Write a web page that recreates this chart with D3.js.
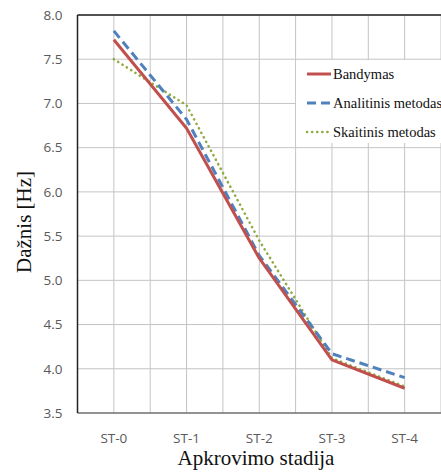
<!DOCTYPE html>
<html>
<head>
<meta charset="utf-8">
<script src="https://cdn.jsdelivr.net/npm/d3@7"></script>
</head>
<body style="margin:0">
<svg id="chart" width="441" height="474"></svg>
<script>
// chart data
var stages = ["ST-0", "ST-1", "ST-2", "ST-3", "ST-4"];
var bandymas = [7.72, 6.72, 5.25, 4.10, 3.78];
var analitinis = [7.82, 6.82, 5.28, 4.17, 3.90];
var skaitinis = [7.50, 6.98, 5.45, 4.12, 3.80];
var yTicks = [3.5, 4.0, 4.5, 5.0, 5.5, 6.0, 6.5, 7.0, 7.5, 8.0];
var seriesNames = ["Bandymas", "Analitinis metodas", "Skaitinis metodas"];

var serifFont = d => "'Liberation Serif'";
var sansFont = d => "'Open Sans'";

var W = 441, H = 474;
var margin = {top: 15, right: 0, bottom: 61, left: 77.5},
  width = W - margin.left - margin.right,
  height = H - margin.top - margin.bottom;

var svg = d3.select("#chart");

var g = svg.append("g")
  .attr("transform", "translate(" + margin.left + "," + margin.top + ")");

var x = d3.scaleLinear()
  .domain([-0.5, stages.length - 0.5])
  .range([0, width]);

var y = d3.scaleLinear()
  .domain([3.5, 8])
  .range([height, 0]);

// gridlines
var xGrid = d3.range(-0.5, stages.length - 0.5 + 0.01, 0.5);
g.append("g")
  .selectAll("line")
  .data(xGrid)
  .enter().append("line")
  .attr("x1", d => x(d)).attr("x2", d => x(d))
  .attr("y1", 0).attr("y2", height)
  .attr("stroke", "#c4c4c4")
  .attr("stroke-width", 1);

g.append("g")
  .selectAll("line")
  .data(yTicks)
  .enter().append("line")
  .attr("x1", 0).attr("x2", width)
  .attr("y1", d => y(d)).attr("y2", d => y(d))
  .attr("stroke", "#c4c4c4")
  .attr("stroke-width", 1);

// frame
g.append("line").attr("x1", 0).attr("x2", width).attr("y1", 0).attr("y2", 0)
  .attr("stroke", "#222").attr("stroke-width", 1.5);
g.append("line").attr("x1", 0).attr("x2", width).attr("y1", height).attr("y2", height)
  .attr("stroke", "#444").attr("stroke-width", 1.2);
g.append("line").attr("x1", 0).attr("x2", 0).attr("y1", 0).attr("y2", height)
  .attr("stroke", "#222").attr("stroke-width", 1.5);

// tick labels, drawn as plain texts from the scales
g.append("g")
  .selectAll("text")
  .data(yTicks)
  .enter().append("text")
  .attr("x", -15)
  .attr("y", d => y(d))
  .attr("dy", "0.35em")
  .attr("text-anchor", "end")
  .attr("fill", "#595959")
  .style("font-family", sansFont)
  .style("font-size", "13.5px")
  .text(d => d.toFixed(1));

g.append("g")
  .selectAll("text")
  .data(stages)
  .enter().append("text")
  .attr("x", (d, i) => x(i))
  .attr("y", height + 30)
  .attr("text-anchor", "middle")
  .attr("fill", "#595959")
  .style("font-family", sansFont)
  .style("font-size", "13.5px")
  .text(d => d);

// lines
var line = d3.line()
  .x((d, i) => x(i))
  .y(d => y(d));

var styles = [
  {data: bandymas, color: "#c0504d", width: 3, dash: null, cap: "butt"},
  {data: analitinis, color: "#4f81bd", width: 3, dash: "9,5", cap: "butt"},
  {data: skaitinis, color: "#8faa3f", width: 2.6, dash: "0.1,5", cap: "round"}
];

// dotted first, then dashed, then solid on top
[2, 1, 0].forEach(function(k) {
  var s = styles[k];
  g.append("path")
    .datum(s.data)
    .attr("d", line)
    .attr("fill", "none")
    .attr("stroke", s.color)
    .attr("stroke-width", s.width)
    .attr("stroke-dasharray", s.dash)
    .attr("stroke-linecap", s.cap)
    .attr("stroke-linejoin", "round");
});

// legend
var legend = svg.append("g")
  .attr("transform", "translate(296,60)");
legend.append("rect")
  .attr("width", 145).attr("height", 83)
  .attr("fill", "#fff");
legend.selectAll("line")
  .data(styles)
  .enter().append("line")
  .attr("x1", 11).attr("x2", 35)
  .attr("y1", (d, i) => 14 + i * 29).attr("y2", (d, i) => 14 + i * 29)
  .attr("stroke", d => d.color)
  .attr("stroke-width", d => d.width)
  .attr("stroke-dasharray", d => d.dash)
  .attr("stroke-linecap", d => d.cap);
legend.selectAll("text")
  .data(seriesNames)
  .enter().append("text")
  .attr("x", 37).attr("y", (d, i) => 19 + i * 29)
  .style("font-family", serifFont)
  .style("font-size", "14.5px")
  .attr("fill", "#111")
  .text(d => d);

// axis titles
svg.selectAll(".xtitle")
  .data(["Apkrovimo stadija"])
  .enter().append("text")
  .attr("class", "xtitle")
  .attr("x", 256).attr("y", 465)
  .attr("text-anchor", "middle")
  .style("font-family", serifFont)
  .style("font-size", "21px")
  .attr("fill", "#111")
  .text(d => d);

svg.selectAll(".ytitle")
  .data(["Dažnis [Hz]"])
  .enter().append("text")
  .attr("class", "ytitle")
  .attr("transform", "translate(31,222) rotate(-90)")
  .attr("text-anchor", "middle")
  .style("font-family", serifFont)
  .style("font-size", "21px")
  .attr("fill", "#111")
  .text(d => d);
</script>
</body>
</html>
